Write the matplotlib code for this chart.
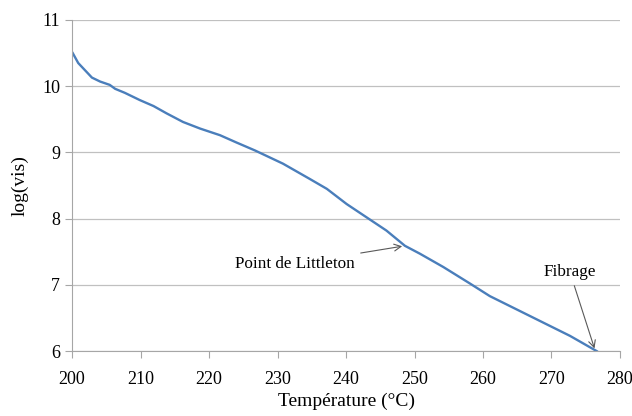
import matplotlib.pyplot as plt

# température (°C) et log(viscosité)
temp = [200.1, 200.9, 201.9, 202.9, 204.1, 205.5, 206.3, 207.7, 209.9, 211.9,
        213.8, 216.2, 218.7, 221.6, 224.0, 226.7, 230.8, 234.7, 237.2, 240.1,
        243.0, 245.9, 248.6, 250.8, 254.2, 258.1, 261.0, 264.9, 268.8, 272.7,
        276.6]
logvis = [10.5, 10.35, 10.24, 10.13, 10.07, 10.02, 9.96, 9.9, 9.79, 9.7,
          9.59, 9.46, 9.36, 9.26, 9.15, 9.03, 8.83, 8.6, 8.45, 8.22,
          8.02, 7.82, 7.59, 7.47, 7.27, 7.02, 6.83, 6.63, 6.43, 6.23,
          6.0]

plt.rcParams['font.family'] = ['Liberation Serif', 'DejaVu Serif']

fig = plt.figure(figsize=(6.32, 4.16), dpi=100)
ax = fig.add_axes([0.114, 0.156, 0.867, 0.796])

ax.plot(temp, logvis, color="#4A7EBB", lw=1.7)

ax.set_xlim(200, 280)
ax.set_ylim(6, 11)
ax.set_xticks(range(200, 281, 10))
ax.set_yticks(range(6, 12))
ax.grid(axis="y", color="#c0c0c0", lw=0.9)
ax.set_axisbelow(True)

for s in ["top", "right"]:
    ax.spines[s].set_visible(False)
for s in ["left", "bottom"]:
    ax.spines[s].set_color("#a6a6a6")
ax.tick_params(axis="both", colors="#a6a6a6", labelcolor="black",
               labelsize=13, length=5, direction="out")
ax.tick_params(axis="x", pad=9)

ax.set_xlabel("Température (°C)", fontsize=14, labelpad=4)
ax.set_ylabel("log(vis)", fontsize=14, labelpad=10)

arrow = dict(arrowstyle="->", color="#595959", lw=0.8)
ax.annotate("Point de Littleton", xy=(248.6, 7.59), xytext=(232.6, 7.32),
            ha="center", va="center", fontsize=12.3, arrowprops=arrow)
ax.annotate("Fibrage", xy=(276.4, 6.0), xytext=(272.7, 7.19),
            ha="center", va="center", fontsize=12.3, arrowprops=arrow)

plt.savefig("out.png")
